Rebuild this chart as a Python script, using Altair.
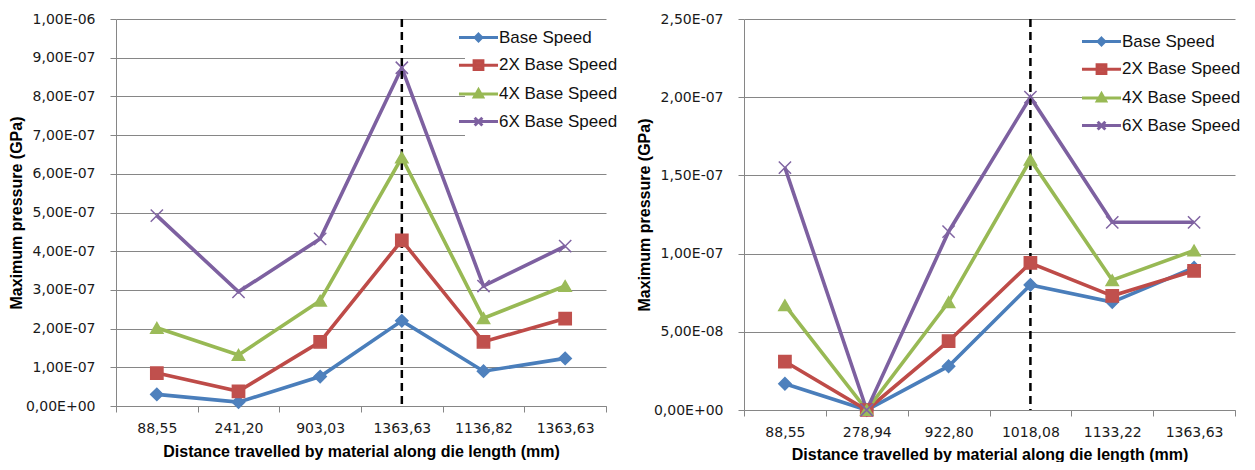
import altair as alt
import pandas as pd

series = ["Base Speed", "2X Base Speed", "4X Base Speed", "6X Base Speed"]
line_colors = ["#4A7EBB", "#BE4B48", "#98B954", "#7D60A0"]
marker_colors = ["#4F81BD", "#C0504D", "#9BBB59", "#8064A2"]

# left panel
left_labels = ["88,55", "241,20", "903,03", "1363,63", "1136,82", "1363,63"]
left_base = [3.0e-8, 1.0e-8, 7.6e-8, 2.2e-7, 9.0e-8, 1.23e-7]
left_2x = [8.5e-8, 3.8e-8, 1.66e-7, 4.28e-7, 1.66e-7, 2.26e-7]
left_4x = [2.02e-7, 1.32e-7, 2.72e-7, 6.42e-7, 2.27e-7, 3.10e-7]
left_6x = [4.92e-7, 2.95e-7, 4.32e-7, 8.74e-7, 3.10e-7, 4.13e-7]
left_ticks = [0, 1e-7, 2e-7, 3e-7, 4e-7, 5e-7, 6e-7, 7e-7, 8e-7, 9e-7, 1e-6]
left_marker_index = 3

# right panel
right_labels = ["88,55", "278,94", "922,80", "1018,08", "1133,22", "1363,63"]
right_base = [1.68e-8, 0.0, 2.8e-8, 8.0e-8, 6.9e-8, 9.1e-8]
right_2x = [3.1e-8, 0.0, 4.4e-8, 9.4e-8, 7.3e-8, 8.9e-8]
right_4x = [6.7e-8, 0.0, 6.9e-8, 1.60e-7, 8.3e-8, 1.02e-7]
right_6x = [1.55e-7, 0.0, 1.14e-7, 2.0e-7, 1.2e-7, 1.2e-7]
right_ticks = [0, 5e-8, 1e-7, 1.5e-7, 2e-7, 2.5e-7]
right_marker_index = 3

x_title = "Distance travelled by material along die length (mm)"
y_title = "Maximum pressure (GPa)"

marker_shapes = ["diamond", "square", "triangle-up", "M-1,-1L1,1M-1,1L1,-1"]
legend_shapes = [
    "M-3.55,0L3.55,0M0,-0.6L0.6,0L0,0.6L-0.6,0Z",
    "M-3.55,0L3.55,0M-0.8,-0.8L0.8,-0.8L0.8,0.8L-0.8,0.8Z",
    "M-3.55,0L3.55,0M0,-0.75L0.75,0.55L-0.75,0.55Z",
    "M-3.55,0L3.55,0M-0.7,-0.7L0.7,0.7M-0.7,0.7L0.7,-0.7",
]

y_label_expr = ("replace(replace(replace(format(datum.value, '.2e'), '.', ','), "
                "'e-', 'E-0'), 'e+', 'E+0')")


def panel(labels, values, ticks, marker_index, w, h, lx, ly, xlp, xtp):
    rows = []
    for s, arr in zip(series, values):
        for i, v in enumerate(arr):
            rows.append({"i": i, "series": s, "value": v})
    df = pd.DataFrame(rows)
    label_expr = "[" + ",".join("'%s'" % l for l in labels) + "][datum.value]"

    x = alt.X(
        "i:O",
        bandPosition=0.5,
        scale=alt.Scale(type="band", paddingInner=0, paddingOuter=0),
        axis=alt.Axis(title=x_title, labelExpr=label_expr, labelAngle=0,
                      tickBand="extent", grid=False, tickSize=6,
                      labelPadding=xlp, titlePadding=xtp),
    )
    y = alt.Y(
        "value:Q",
        scale=alt.Scale(domain=[ticks[0], ticks[-1]], nice=False),
        axis=alt.Axis(title=y_title, values=ticks, labelExpr=y_label_expr,
                      grid=True, tickSize=6, labelPadding=15, titlePadding=1),
    )
    sdom = dict(domain=series)
    base = alt.Chart(df)
    lines = base.mark_line(strokeWidth=3.6).encode(
        x=x, y=y,
        color=alt.Color("series:N", scale=alt.Scale(range=line_colors, **sdom), legend=None),
    )
    markers = base.mark_point(filled=True, size=150, strokeWidth=1.5, opacity=1).encode(
        x=x, y=y,
        color=alt.Color("series:N", scale=alt.Scale(range=marker_colors, **sdom), legend=None),
        stroke=alt.Stroke("series:N", scale=alt.Scale(range=marker_colors, **sdom), legend=None),
        shape=alt.Shape("series:N", scale=alt.Scale(range=marker_shapes, **sdom), legend=None),
    )
    leg = alt.Legend(orient="none", legendX=lx, legendY=ly, title=None,
                     labelFont="Liberation Sans", labelFontSize=17, labelColor="#111111",
                     symbolSize=121, symbolStrokeWidth=3, padding=5, fillColor="white",
                     rowPadding=7.7, labelOffset=12, symbolOpacity=1)
    legend_layer = base.mark_point(filled=True, size=121, strokeWidth=3, opacity=1).encode(
        x=x, y=y,
        color=alt.Color("series:N", scale=alt.Scale(range=marker_colors, **sdom), legend=leg),
        stroke=alt.Stroke("series:N", scale=alt.Scale(range=line_colors, **sdom), legend=leg),
        shape=alt.Shape("series:N", scale=alt.Scale(range=legend_shapes, **sdom), legend=leg),
    ).transform_filter("false")
    rule = alt.Chart(pd.DataFrame({"i": [marker_index]})).mark_rule(
        color="black", strokeWidth=2.5, strokeDash=[8, 5]
    ).encode(x=alt.X("i:O", bandPosition=0.5))

    return alt.layer(lines, rule, markers, legend_layer).resolve_scale(
        color="independent", stroke="independent", shape="independent"
    ).properties(width=w, height=h)


left = panel(left_labels, [left_base, left_2x, left_4x, left_6x], left_ticks,
             left_marker_index, 490, 387, 349, 5, 9, 8)
right = panel(right_labels, [right_base, right_2x, right_4x, right_6x], right_ticks,
              right_marker_index, 491, 391, 344, 9, 9, 7)

chart = alt.hconcat(left, right, spacing=13).configure_view(stroke=None).configure_axis(
    domainColor="#868686", tickColor="#868686", gridColor="#868686",
    labelFont="DejaVu Sans", labelFontSize=14, labelColor="#1a1a1a",
    titleFont="Liberation Sans", titleFontSize=16, titleFontWeight="bold", titleColor="#000000",
).properties(background="white", padding={"top": 4, "left": 0, "right": 0, "bottom": 0})

chart.save("out.html", embed_options={"renderer": "svg", "actions": False})
